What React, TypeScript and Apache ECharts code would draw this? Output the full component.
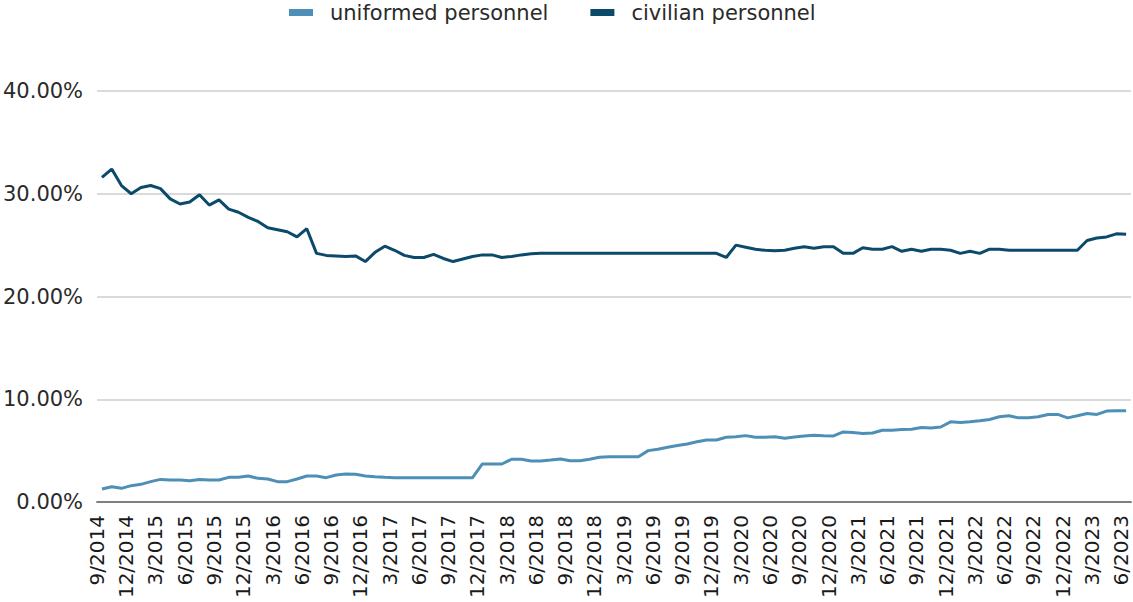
import React, { useEffect, useRef } from "react";
import * as echarts from "echarts";

// Month labels 9/2014 .. 6/2023
const startYear = 2014;
const startMonth = 9;
const monthCount = 106;
const categories: string[] = [];
for (let i = 0; i < monthCount; i++) {
  const t = startMonth - 1 + i;
  categories.push(`${(t % 12) + 1}/${startYear + Math.floor(t / 12)}`);
}

const uniformed: number[] = [
  1.27, 1.49, 1.33, 1.59, 1.72, 1.98, 2.2, 2.14, 2.14, 2.07,
  2.2, 2.14, 2.14, 2.4, 2.4, 2.53, 2.3, 2.24, 1.98, 1.98,
  2.24, 2.53, 2.53, 2.37, 2.63, 2.73, 2.7, 2.53, 2.46, 2.4,
  2.37, 2.37, 2.37, 2.37, 2.37, 2.37, 2.37, 2.37, 2.37, 3.7,
  3.7, 3.7, 4.16, 4.16, 4.0, 4.0, 4.09, 4.19, 4.02, 4.02,
  4.16, 4.35, 4.41, 4.41, 4.41, 4.41, 5.0, 5.13, 5.33, 5.49,
  5.65, 5.87, 6.04, 6.04, 6.3, 6.36, 6.46, 6.3, 6.3, 6.36,
  6.2, 6.33, 6.42, 6.5, 6.45, 6.43, 6.82, 6.76, 6.66, 6.72,
  6.98, 6.98, 7.05, 7.08, 7.25, 7.2, 7.3, 7.8, 7.74, 7.8,
  7.9, 8.03, 8.29, 8.39, 8.19, 8.19, 8.29, 8.52, 8.52, 8.19,
  8.39, 8.62, 8.52, 8.85, 8.88, 8.88,
];

const civilian: number[] = [
  31.6, 32.4, 30.8, 30.0, 30.6, 30.8, 30.5, 29.5, 29.0, 29.2,
  29.9, 28.9, 29.4, 28.5, 28.2, 27.7, 27.3, 26.7, 26.5, 26.3,
  25.8, 26.6, 24.2, 24.0, 23.95, 23.9, 23.95, 23.4, 24.3, 24.9,
  24.5, 24.0, 23.8, 23.8, 24.1, 23.7, 23.4, 23.65, 23.9, 24.05,
  24.05, 23.8, 23.9, 24.05, 24.15, 24.2, 24.2, 24.2, 24.2, 24.2,
  24.2, 24.2, 24.2, 24.2, 24.2, 24.2, 24.2, 24.2, 24.2, 24.2,
  24.2, 24.2, 24.2, 24.2, 23.8, 25.0, 24.8, 24.6, 24.5, 24.45,
  24.5, 24.7, 24.85, 24.7, 24.85, 24.85, 24.2, 24.2, 24.75, 24.6,
  24.6, 24.85, 24.4, 24.6, 24.4, 24.6, 24.6, 24.5, 24.2, 24.4,
  24.2, 24.6, 24.6, 24.5, 24.5, 24.5, 24.5, 24.5, 24.5, 24.5,
  24.5, 25.45, 25.7, 25.8, 26.1, 26.05,
];

const yTicks = { min: 0, max: 40, interval: 10 };
const seriesNames = ["uniformed personnel", "civilian personnel"];
const colors = ["#4e8fb8", "#0c4a6c"];
const FONT = "DejaVu Sans";

export default function App() {
  const ref = useRef<HTMLDivElement>(null);
  useEffect(() => {
    if (!ref.current) return;
    const chart = echarts.init(ref.current, null, { renderer: "svg" });
    chart.setOption({
      animation: false,
      color: colors,
      legend: {
        top: -3,
        left: 284,
        itemWidth: 24,
        itemHeight: 7,
        itemGap: 42,
        icon: "rect",
        textStyle: {
          fontFamily: FONT,
          fontSize: 21,
          color: "#2a2a2a",
          padding: [0, 0, 0, 12],
        },
        data: seriesNames,
      },
      grid: { left: 97, right: 2, top: 91, bottom: 100, containLabel: false },
      xAxis: {
        type: "category",
        data: categories,
        boundaryGap: true,
        axisLine: { lineStyle: { color: "#7f7f7f", width: 2 } },
        axisTick: { show: false },
        axisLabel: {
          interval: 2,
          rotate: 90,
          margin: 13,
          verticalAlign: "bottom",
          lineHeight: 10,
          fontFamily: FONT,
          fontSize: 20,
          color: "#1a1a1a",
        },
      },
      yAxis: {
        type: "value",
        min: yTicks.min,
        max: yTicks.max,
        interval: yTicks.interval,
        axisLine: { show: false },
        axisTick: { show: false },
        splitLine: { lineStyle: { color: "#dadada", width: 2 } },
        axisLabel: {
          margin: 14,
          fontFamily: FONT,
          fontSize: 21,
          color: "#2a2a2a",
          formatter: (v: number) => `${v.toFixed(2)}%`,
        },
      },
      series: [
        {
          name: seriesNames[0],
          type: "line",
          data: uniformed,
          showSymbol: false,
          symbol: "none",
          lineStyle: { width: 3, color: colors[0] },
        },
        {
          name: seriesNames[1],
          type: "line",
          data: civilian,
          showSymbol: false,
          symbol: "none",
          lineStyle: { width: 3, color: colors[1] },
        },
      ],
    });
    return () => chart.dispose();
  }, []);
  return (
    <div
      ref={ref}
      style={{ position: "absolute", left: 0, top: 0, width: 1133, height: 602, background: "#fff" }}
    />
  );
}
